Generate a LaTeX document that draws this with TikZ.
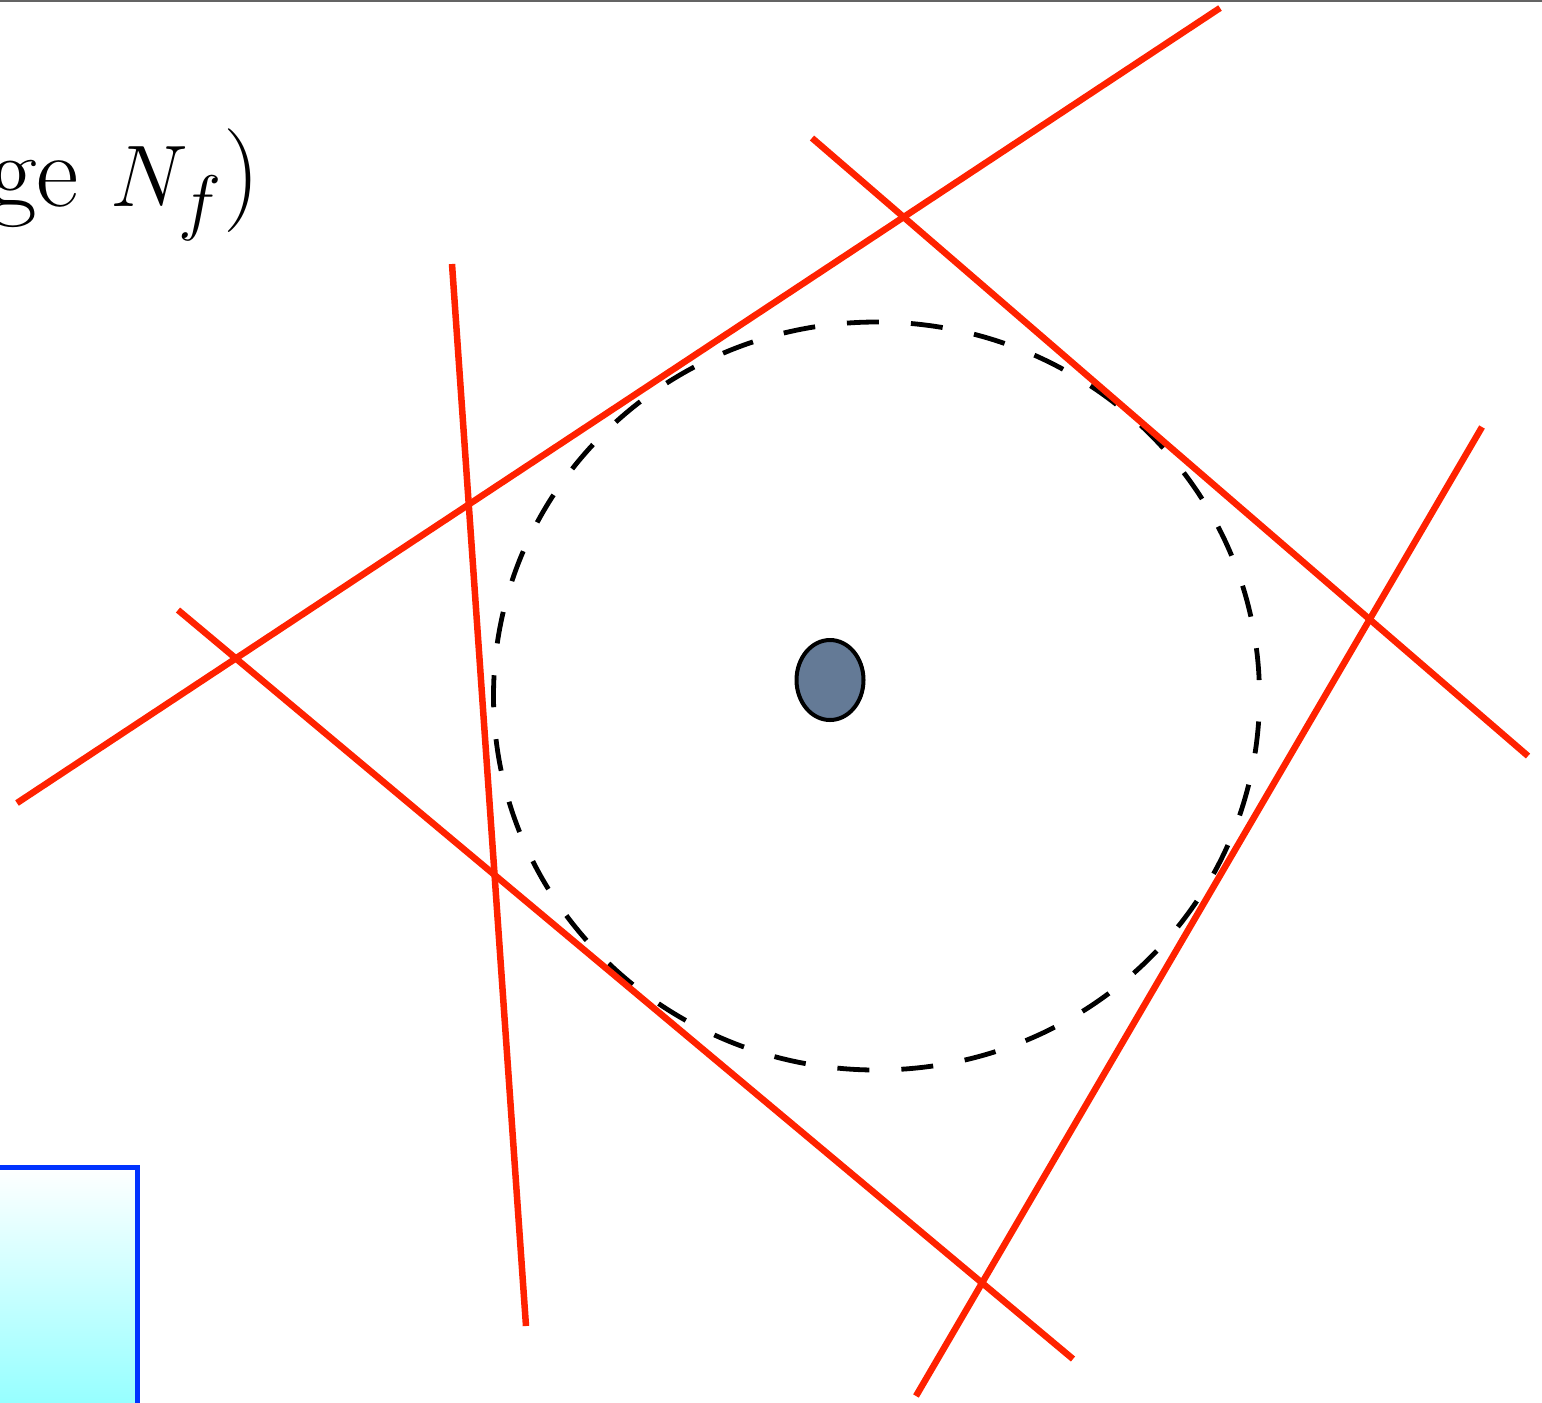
\documentclass[tikz,border=0pt]{standalone}
\begin{document}
\begin{tikzpicture}[x=0.01cm,y=-0.01cm,
  redline/.style={draw={rgb,255:red,255;green,34;blue,0},line width=6.5*0.2845pt},
  dashcirc/.style={draw=black,line width=4.8*0.2845pt,dash pattern=on 32*0.2845pt off 32*0.2845pt,dash phase=38.5*0.2845pt}]
\useasboundingbox (0,0) rectangle (1542,1402);
\clip (0,0) rectangle (1542,1402);
% top frame line
\draw[line width=2.5*0.2845pt,draw={rgb,255:red,100;green,100;blue,100}] (0,0.5) -- (1542,0.5);
% text (cut off at the left edge, as in the reference)
\node[anchor=base east,inner sep=0pt,font=\fontsize{29.5}{35}\selectfont] (lbl) at (261,206) {ge $N_f$)};
% blue box
\shade[top color=white,bottom color={rgb,255:red,150;green,255;blue,255}] (-200,1167) rectangle (137,1404);
\draw[line width=5*0.2845pt,draw={rgb,255:red,0;green,51;blue,255}] (-200,1500) -- (-200,1167) -- (137,1167) -- (137,1500);
% dashed ellipse
\draw[dashcirc] (876.5,696) ellipse [x radius=383, y radius=374];
% red lines
\coordinate (a1) at (17,803);  \coordinate (a2) at (1220,8);
\coordinate (b1) at (812,138); \coordinate (b2) at (1528,756);
\coordinate (c1) at (452,264); \coordinate (c2) at (526,1326);
\coordinate (d1) at (178,610); \coordinate (d2) at (1073,1359);
\coordinate (e1) at (1482,427);\coordinate (e2) at (916,1396);
\draw[redline] (a1) -- (a2);
\draw[redline] (b1) -- (b2);
\draw[redline] (c1) -- (c2);
\draw[redline] (d1) -- (d2);
\draw[redline] (e1) -- (e2);
% dot
\draw[line width=4*0.2845pt,fill={rgb,255:red,100;green,122;blue,150}] (830,680) ellipse [x radius=33.5, y radius=40];
\end{tikzpicture}
\end{document}
